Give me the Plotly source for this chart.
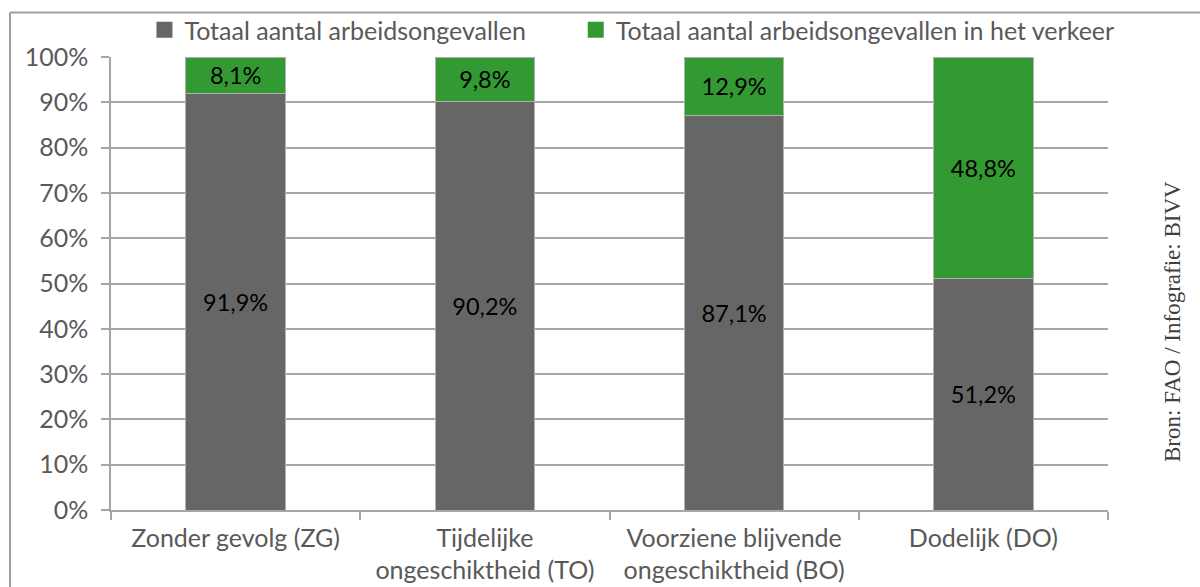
import plotly.graph_objects as go

categories = [
    "Zonder gevolg (ZG)",
    "Tijdelijke<br>ongeschiktheid (TO)",
    "Voorziene blijvende<br>ongeschiktheid (BO)",
    "Dodelijk (DO)",
]
totaal = [91.9, 90.2, 87.1, 51.2]
verkeer = [8.1, 9.8, 12.9, 48.8]
y_ticks = [0, 10, 20, 30, 40, 50, 60, 70, 80, 90, 100]
y_labels = [f"{v}%" for v in y_ticks]
series_names = ["Totaal aantal arbeidsongevallen",
                "Totaal aantal arbeidsongevallen in het verkeer"]
series_colors = ["#666666", "#339933"]

W, H = 1200, 587
L, R, T, B = 111, 92, 57, 77
pw, ph = W - L - R, H - T - B

def px_x(x):
    return (x - L) / pw

def px_y(y):
    return (H - B - y) / ph

FONT = "Lato"
FS = 25
FS_LABEL = 23.5
GREY_TXT = "#595959"

def fmt(v):
    return f"{v:.1f}".replace(".", ",") + "%"

fig = go.Figure()
for vals, name, color in zip([totaal, verkeer], series_names, series_colors):
    fig.add_trace(go.Bar(
        x=categories, y=vals, name=name, showlegend=False,
        marker=dict(color=color, line=dict(color="#b0b0b0", width=1)),
        text=[fmt(v) for v in vals], textposition="inside",
        insidetextanchor="middle", textangle=0,
        textfont=dict(color="black", size=FS_LABEL, family=FONT),
        width=0.4,
    ))

# legend entries with larger square swatches; extra spacing after the first one
legend_labels = [series_names[0] + "\u00a0" * 7, series_names[1]]
for name, color in zip(legend_labels, series_colors):
    fig.add_trace(go.Scatter(
        x=[None], y=[None], mode="markers", name=name,
        marker=dict(symbol="square", size=16, color=color),
        hoverinfo="skip",
    ))

fig.update_layout(
    width=W, height=H,
    barmode="stack",
    margin=dict(l=L, r=R, t=T, b=B, pad=0, autoexpand=False),
    paper_bgcolor="white", plot_bgcolor="white",
    font=dict(family=FONT, size=FS, color=GREY_TXT),
    uniformtext=dict(minsize=10, mode="show"),
    showlegend=True,
    legend=dict(
        orientation="h", x=0.5225, xanchor="center", y=px_y(30), yanchor="middle",
        font=dict(size=FS, color=GREY_TXT, family=FONT),
        itemsizing="trace", traceorder="normal",
        bgcolor="rgba(0,0,0,0)",
    ),
    xaxis=dict(
        showline=True, linecolor="#a6a6a6", linewidth=1.5,
        ticks="outside", ticklen=8, tickcolor="#a6a6a6", tickwidth=1.5,
        tickson="boundaries", ticklabelstandoff=5,
        tickfont=dict(size=FS, color=GREY_TXT, family=FONT),
        showgrid=False,
    ),
    yaxis=dict(
        range=[0, 100], tickvals=y_ticks, ticktext=y_labels,
        showline=True, linecolor="#a6a6a6", linewidth=1.5,
        ticks="outside", ticklen=8, tickcolor="#a6a6a6", tickwidth=1.5,
        ticklabelstandoff=8,
        showgrid=True, gridcolor="#a6a6a6", gridwidth=1.5,
        tickfont=dict(size=FS, color=GREY_TXT, family=FONT),
        zeroline=False,
    ),
    shapes=[
        dict(type="line", xref="paper", yref="paper",
             x0=px_x(10), x1=px_x(1205), y0=px_y(12.5), y1=px_y(12.5),
             line=dict(color="#a0a0a0", width=2)),
        dict(type="line", xref="paper", yref="paper",
             x0=px_x(10), x1=px_x(10), y0=px_y(12.5), y1=px_y(595),
             line=dict(color="#a0a0a0", width=2)),
    ],
    annotations=[
        dict(text="Bron: FAO / Infografie: BIVV", xref="paper", yref="paper",
             x=px_x(1172), y=px_y(322), textangle=-90, showarrow=False,
             xanchor="center", yanchor="middle",
             font=dict(family="Liberation Serif", size=23, color="#404040")),
    ],
)

fig.write_html("out.html")
